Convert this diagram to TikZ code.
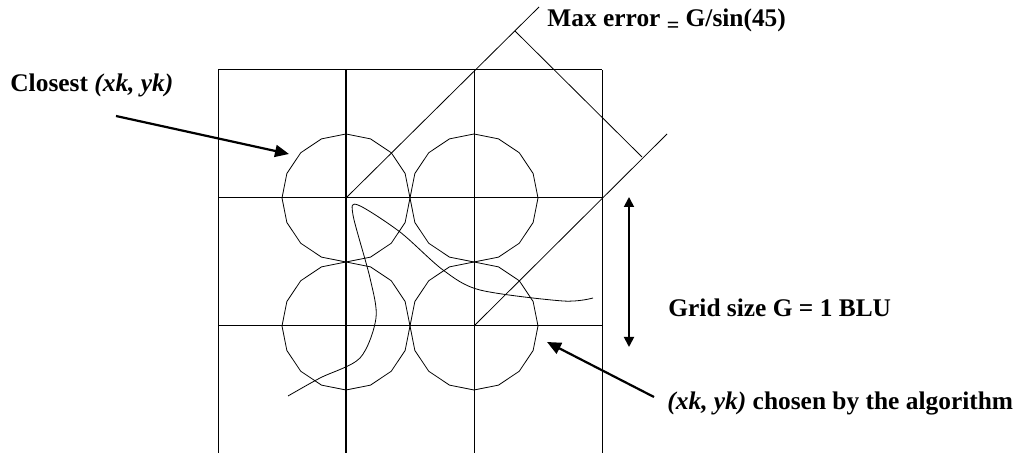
\documentclass[tikz,border=0pt]{standalone}
\usepackage{fontspec}
\setmainfont{Liberation Serif}
\usepackage{tikz}
\usetikzlibrary{arrows.meta, positioning}
\tikzset{
    gridline/.style={draw=black, line width=0.5pt},
    midline/.style={draw=black, line width=0.9pt},
    ring/.style={draw=black, line width=0.4pt, line join=round},
    guide/.style={draw=black, line width=0.4pt},
    path/.style={draw=black, line width=0.4pt},
    pointer/.style={line width=1.1pt, -{Triangle[length=7pt, width=6pt]}},
    span/.style={line width=0.9pt, {Triangle[length=5pt, width=5pt]}-{Triangle[length=5pt, width=5pt]}},
    note/.style={font=\fontsize{12.7}{15}\selectfont\bfseries, inner sep=0pt, anchor=base west}
}

\begin{document}
\begin{tikzpicture}[x=0.5pt, y=-0.5pt]
    \useasboundingbox (0,0) rectangle (1019,453);

    % grid
    \foreach \gx in {218,474,602}
        \draw [gridline] (\gx,70) -- (\gx,453);
    \draw [midline] (346,70) -- (346,453);
    \foreach \gy in {70,198,326}
        \draw [gridline] (218,\gy) -- (602,\gy);

    % pixel circles
    \foreach \cx/\cy in {346/198, 474/198, 346/326, 474/326}
        \draw [ring, shift={(\cx,\cy)}] (0:64)
            \foreach \k in {1,...,15} { -- (\k*22.5:64) } -- cycle;

    % error band
    \coordinate (a1) at (346,198);
    \coordinate (a2) at (539,7);
    \coordinate (b1) at (474,326);
    \coordinate (b2) at (667,134);
    \coordinate (p1) at (515,31);
    \coordinate (p2) at (642,157);
    \draw [guide] (a1) -- (a2);
    \draw [guide] (b1) -- (b2);
    \draw [guide] (p1) -- (p2);

    % true line
    \draw [path] plot [smooth, tension=0.5] coordinates {
        (288,396) (320,378) (360,358) (376,318) (370,278) (353,215)
        (358,205) (400,232) (443,270) (480,290) (563,301) (593,298)};

    % labels
    \node (closest) [note] at (10,92) {Closest \textit{(xk, yk)}};
    \node (maxerr) [note] at (547,27) {Max error \raisebox{-3pt}{\fontsize{11}{12}\selectfont =} G/sin(45)};
    \node (gridsize) [note] at (668,317) {Grid size G = 1 BLU};
    \node (chosen) [note] at (667,410) {\textit{(xk, yk)} chosen by the algorithm};

    \coordinate (c1) at (116,116);
    \coordinate (c2) at (289,154);
    \coordinate (h1) at (654,397);
    \coordinate (h2) at (547,342);
    \coordinate (s1) at (629,197);
    \coordinate (s2) at (629,347);
    \draw [pointer] (c1) -- (c2);
    \draw [pointer] (h1) -- (h2);
    \draw [span] (s1) -- (s2);
\end{tikzpicture}
\end{document}
